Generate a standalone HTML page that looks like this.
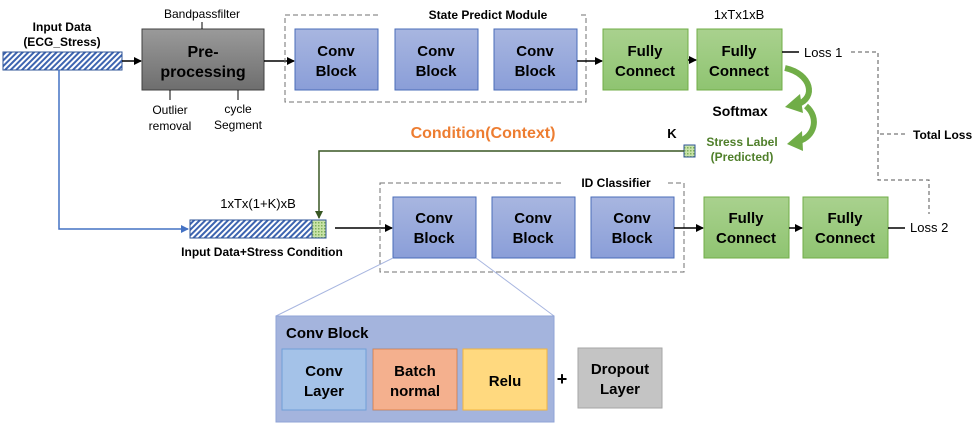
<!DOCTYPE html>
<html><head><meta charset="utf-8"><style>
html,body{margin:0;padding:0;background:#fff;}
svg{display:block;font-family:"Liberation Sans","Noto Sans CJK KR",sans-serif;}
.b{font-weight:bold;}
</style></head><body>
<svg width="979" height="429" viewBox="0 0 979 429" xmlns="http://www.w3.org/2000/svg">
<defs>
<pattern id="hb" width="4" height="4" patternUnits="userSpaceOnUse" patternTransform="rotate(45)">
<rect width="4" height="4" fill="#fff"/><rect width="2" height="4" fill="#3d64b0"/></pattern>
<pattern id="hg" width="3" height="3" patternUnits="userSpaceOnUse">
<rect width="3" height="3" fill="#c9e3a8"/><rect width="1.5" height="1.5" fill="#7fb05a"/></pattern>
<linearGradient id="gray" x1="0" y1="0" x2="0" y2="1"><stop offset="0" stop-color="#9a9a9a"/><stop offset="1" stop-color="#6e6e6e"/></linearGradient>
<linearGradient id="blue" x1="0" y1="0" x2="0" y2="1"><stop offset="0" stop-color="#a8b6e0"/><stop offset="1" stop-color="#8a9ed8"/></linearGradient>
<linearGradient id="green" x1="0" y1="0" x2="0" y2="1"><stop offset="0" stop-color="#a9d18e"/><stop offset="1" stop-color="#8fc471"/></linearGradient>
<marker id="a" markerWidth="8" markerHeight="8" refX="7" refY="4" orient="auto" markerUnits="userSpaceOnUse"><path d="M0,0 L8,4 L0,8z" fill="#000"/></marker>
<marker id="ab" markerWidth="8" markerHeight="8" refX="7" refY="4" orient="auto" markerUnits="userSpaceOnUse"><path d="M0,0 L8,4 L0,8z" fill="#4472c4"/></marker>
<marker id="ag" markerWidth="8" markerHeight="8" refX="7" refY="4" orient="auto" markerUnits="userSpaceOnUse"><path d="M0,0 L8,4 L0,8z" fill="#385723"/></marker>
</defs>

<text x="62" y="31" font-size="12" class="b" text-anchor="middle">Input Data</text>
<text x="62" y="46" font-size="12" class="b" text-anchor="middle">(ECG_Stress)</text>
<rect x="3" y="52" width="119" height="18" fill="url(#hb)" stroke="#2f5597"/>
<line x1="122" y1="61" x2="141" y2="61" stroke="#000" stroke-width="1.5" marker-end="url(#a)"/>
<rect x="142" y="29" width="122" height="61" fill="url(#gray)" stroke="#404040"/>
<line x1="202" y1="22" x2="202" y2="29" stroke="#000"/>
<line x1="170" y1="90" x2="170" y2="100" stroke="#000"/>
<line x1="238" y1="90" x2="238" y2="100" stroke="#000"/>
<text x="202" y="18" font-size="12" text-anchor="middle">Bandpassfilter</text>
<text x="203" y="57" font-size="16" class="b" text-anchor="middle">Pre-</text>
<text x="203" y="77" font-size="16" class="b" text-anchor="middle">processing</text>
<text x="170" y="114" font-size="12" text-anchor="middle">Outlier</text>
<text x="170" y="130" font-size="12" text-anchor="middle">removal</text>
<text x="238" y="113" font-size="12" text-anchor="middle">cycle</text>
<text x="238" y="129" font-size="12" text-anchor="middle">Segment</text>
<line x1="264" y1="61" x2="294" y2="61" stroke="#000" stroke-width="1.5" marker-end="url(#a)"/>

<rect x="285" y="15" width="301" height="87" fill="none" stroke="#707070" stroke-dasharray="5,3"/>
<rect x="378" y="6" width="200" height="16" fill="#fff"/>
<text x="488" y="19" font-size="12" class="b" text-anchor="middle">State Predict Module</text>
<g font-size="15" class="b" text-anchor="middle">
<rect x="295" y="29" width="83" height="61" fill="url(#blue)" stroke="#4a6cb8"/>
<text x="336" y="56">Conv</text><text x="336" y="76">Block</text>
<rect x="395" y="29" width="83" height="61" fill="url(#blue)" stroke="#4a6cb8"/>
<text x="436" y="56">Conv</text><text x="436" y="76">Block</text>
<rect x="494" y="29" width="83" height="61" fill="url(#blue)" stroke="#4a6cb8"/>
<text x="535" y="56">Conv</text><text x="535" y="76">Block</text>
</g>
<line x1="577" y1="61" x2="602" y2="61" stroke="#000" stroke-width="1.5" marker-end="url(#a)"/>
<g font-size="15" class="b" text-anchor="middle">
<rect x="603" y="29" width="85" height="61" fill="url(#green)" stroke="#70ad47"/>
<text x="645" y="56">Fully</text><text x="645" y="76">Connect</text>
<rect x="697" y="29" width="85" height="61" fill="url(#green)" stroke="#70ad47"/>
<text x="739" y="56">Fully</text><text x="739" y="76">Connect</text>
</g>
<line x1="688" y1="60" x2="696" y2="60" stroke="#000" stroke-width="1.5" marker-end="url(#a)"/>
<text x="739" y="19" font-size="13" text-anchor="middle">1xTx1xB</text>
<line x1="782" y1="52" x2="799" y2="52" stroke="#000" stroke-width="1.5"/>
<text x="804" y="57" font-size="13">Loss 1</text>
<path d="M851,52 H878 V180 H929 V214" fill="none" stroke="#555" stroke-dasharray="4,3"/>
<line x1="880" y1="134" x2="905" y2="134" stroke="#555" stroke-dasharray="4,3"/>
<text x="913" y="139" font-size="12" class="b">Total Loss</text>

<path d="M785,68 C812,74 816,98 798,104" fill="none" stroke="#70ad47" stroke-width="6"/>
<path d="M785,107 L800,94 L803,113z" fill="#70ad47"/>
<path d="M806,106 C820,118 814,137 799,141" fill="none" stroke="#70ad47" stroke-width="6"/>
<path d="M787,144 L802,131 L803,151z" fill="#70ad47"/>
<text x="740" y="116" font-size="14" class="b" text-anchor="middle">Softmax</text>
<text x="742" y="146" font-size="12" class="b" fill="#4f7f2a" text-anchor="middle">Stress Label</text>
<text x="742" y="161" font-size="12" class="b" fill="#4f7f2a" text-anchor="middle">(Predicted)</text>
<text x="672" y="138" font-size="13" class="b" text-anchor="middle">K</text>
<rect x="684" y="145" width="11" height="12" fill="url(#hg)" stroke="#2f5597"/>
<text x="483" y="138" font-size="16" class="b" fill="#ed7d31" text-anchor="middle">Condition(Context)</text>
<path d="M684,151 H319 V218" fill="none" stroke="#385723" stroke-width="1.5" marker-end="url(#ag)"/>

<path d="M59,70 V229 H188" fill="none" stroke="#4472c4" stroke-width="1.5" marker-end="url(#ab)"/>
<text x="258" y="208" font-size="13" text-anchor="middle">1xTx(1+K)xB</text>
<rect x="190" y="220" width="122" height="18" fill="url(#hb)" stroke="#2f5597"/>
<rect x="312" y="220" width="14" height="18" fill="url(#hg)" stroke="#2f5597"/>
<text x="262" y="256" font-size="12" class="b" text-anchor="middle">Input Data+Stress Condition</text>
<line x1="335" y1="228" x2="392" y2="228" stroke="#000" stroke-width="1.5" marker-end="url(#a)"/>

<rect x="380" y="183" width="304" height="89" fill="none" stroke="#707070" stroke-dasharray="5,3"/>
<rect x="562" y="174" width="106" height="16" fill="#fff"/>
<text x="616" y="187" font-size="12" class="b" text-anchor="middle">ID Classifier</text>
<g font-size="15" class="b" text-anchor="middle">
<rect x="393" y="197" width="83" height="61" fill="url(#blue)" stroke="#4a6cb8"/>
<text x="434" y="223">Conv</text><text x="434" y="243">Block</text>
<rect x="492" y="197" width="83" height="61" fill="url(#blue)" stroke="#4a6cb8"/>
<text x="533" y="223">Conv</text><text x="533" y="243">Block</text>
<rect x="591" y="197" width="83" height="61" fill="url(#blue)" stroke="#4a6cb8"/>
<text x="632" y="223">Conv</text><text x="632" y="243">Block</text>
</g>
<line x1="674" y1="228" x2="703" y2="228" stroke="#000" stroke-width="1.5" marker-end="url(#a)"/>
<g font-size="15" class="b" text-anchor="middle">
<rect x="704" y="197" width="85" height="61" fill="url(#green)" stroke="#70ad47"/>
<text x="746" y="223">Fully</text><text x="746" y="243">Connect</text>
<rect x="803" y="197" width="85" height="61" fill="url(#green)" stroke="#70ad47"/>
<text x="845" y="223">Fully</text><text x="845" y="243">Connect</text>
</g>
<line x1="789" y1="228" x2="802" y2="228" stroke="#000" stroke-width="1.5" marker-end="url(#a)"/>
<line x1="888" y1="228" x2="905" y2="228" stroke="#000" stroke-width="1.5"/>
<text x="910" y="232" font-size="13">Loss 2</text>

<line x1="393" y1="258" x2="276" y2="316" stroke="#a8b6e0"/>
<line x1="476" y1="258" x2="554" y2="316" stroke="#a8b6e0"/>
<rect x="276" y="316" width="278" height="106" fill="#a4b4dd" stroke="#8fa3d6"/>
<text x="286" y="338" font-size="15" class="b">Conv Block</text>
<g font-size="15" class="b" text-anchor="middle">
<rect x="282" y="349" width="84" height="61" fill="#a4c2e8" stroke="#6f9fd8"/>
<text x="324" y="376">Conv</text><text x="324" y="396">Layer</text>
<rect x="373" y="349" width="84" height="61" fill="#f4b08e" stroke="#c55a11" stroke-opacity="0.5"/>
<text x="415" y="376">Batch</text><text x="415" y="396">normal</text>
<rect x="463" y="349" width="84" height="61" fill="#ffd97f" stroke="#f2b540"/>
<text x="505" y="386">Relu</text>
<text x="562" y="385" font-size="18">+</text>
<rect x="578" y="348" width="84" height="60" fill="#c4c4c4" stroke="#a6a6a6"/>
<text x="620" y="374">Dropout</text><text x="620" y="394">Layer</text>
</g>
</svg>
</body></html>
